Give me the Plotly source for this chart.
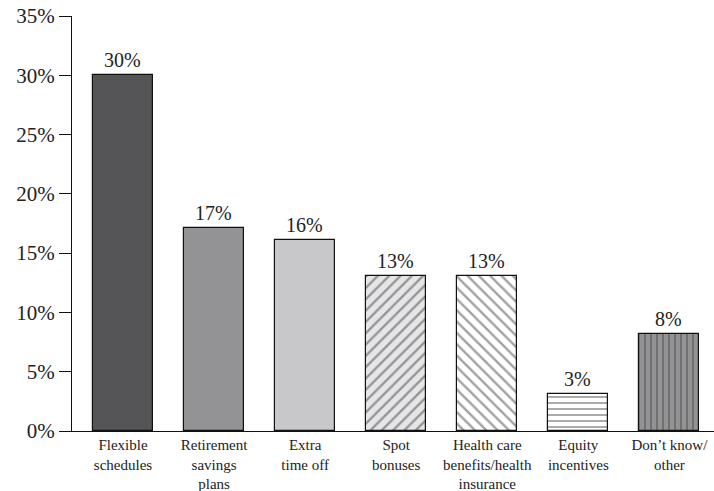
import plotly.graph_objects as go

categories = ["Flexible<br>schedules", "Retirement<br>savings<br>plans", "Extra<br>time off",
              "Spot<br>bonuses", "Health care<br>benefits/health<br>insurance", "Equity<br>incentives",
              "Don’t know/<br>other"]
values = [30.0, 17.1, 16.1, 13.1, 13.1, 3.1, 8.2]
value_labels = ["30%", "17%", "16%", "13%", "13%", "3%", "8%"]
fill_colors = ["#555557", "#939396", "#c8c8ca", "#e6e6e8", "#ffffff", "#ffffff", "#939396"]
patterns = ["", "", "", "/", "\\", "-", "|"]
pattern_sizes = [8, 8, 8, 8, 8, 6, 6]
y_ticks = [0, 5, 10, 15, 20, 25, 30, 35]
y_tick_labels = ["0%", "5%", "10%", "15%", "20%", "25%", "30%", "35%"]

x = list(range(len(categories)))

fig = go.Figure()
fig.add_trace(go.Bar(
    x=x, y=values, width=0.66,
    text=value_labels, textposition="outside", cliponaxis=False,
    textfont=dict(family="Liberation Serif", size=20, color="#222"),
    marker=dict(
        color=fill_colors,
        line=dict(color="#111", width=1.2),
        pattern=dict(shape=patterns, fgcolor="#111", bgcolor=fill_colors,
                     size=pattern_sizes, solidity=0.3, fillmode="overlay"),
    ),
))

fig.update_layout(
    width=714, height=491,
    margin=dict(l=72, r=0, t=16, b=60),
    paper_bgcolor="white", plot_bgcolor="white",
    showlegend=False,
    font=dict(family="Liberation Serif", color="#222"),
    bargap=0,
)
fig.update_xaxes(
    range=[-0.56, 6.49], tickmode="array", tickvals=x, ticktext=categories,
    showline=True, linecolor="#111", linewidth=1.2, ticks="",
    tickfont=dict(family="Liberation Serif", size=15, color="#222"),
    showgrid=False, zeroline=False,
)
fig.update_yaxes(
    range=[0, 35], tickmode="array", tickvals=y_ticks, ticktext=y_tick_labels,
    showline=True, linecolor="#111", linewidth=1.2,
    ticks="outside", ticklen=12, tickwidth=1.2, tickcolor="#111",
    tickfont=dict(family="Liberation Serif", size=21, color="#222"),
    showgrid=False, zeroline=False,
)

fig.write_html("out.html")
